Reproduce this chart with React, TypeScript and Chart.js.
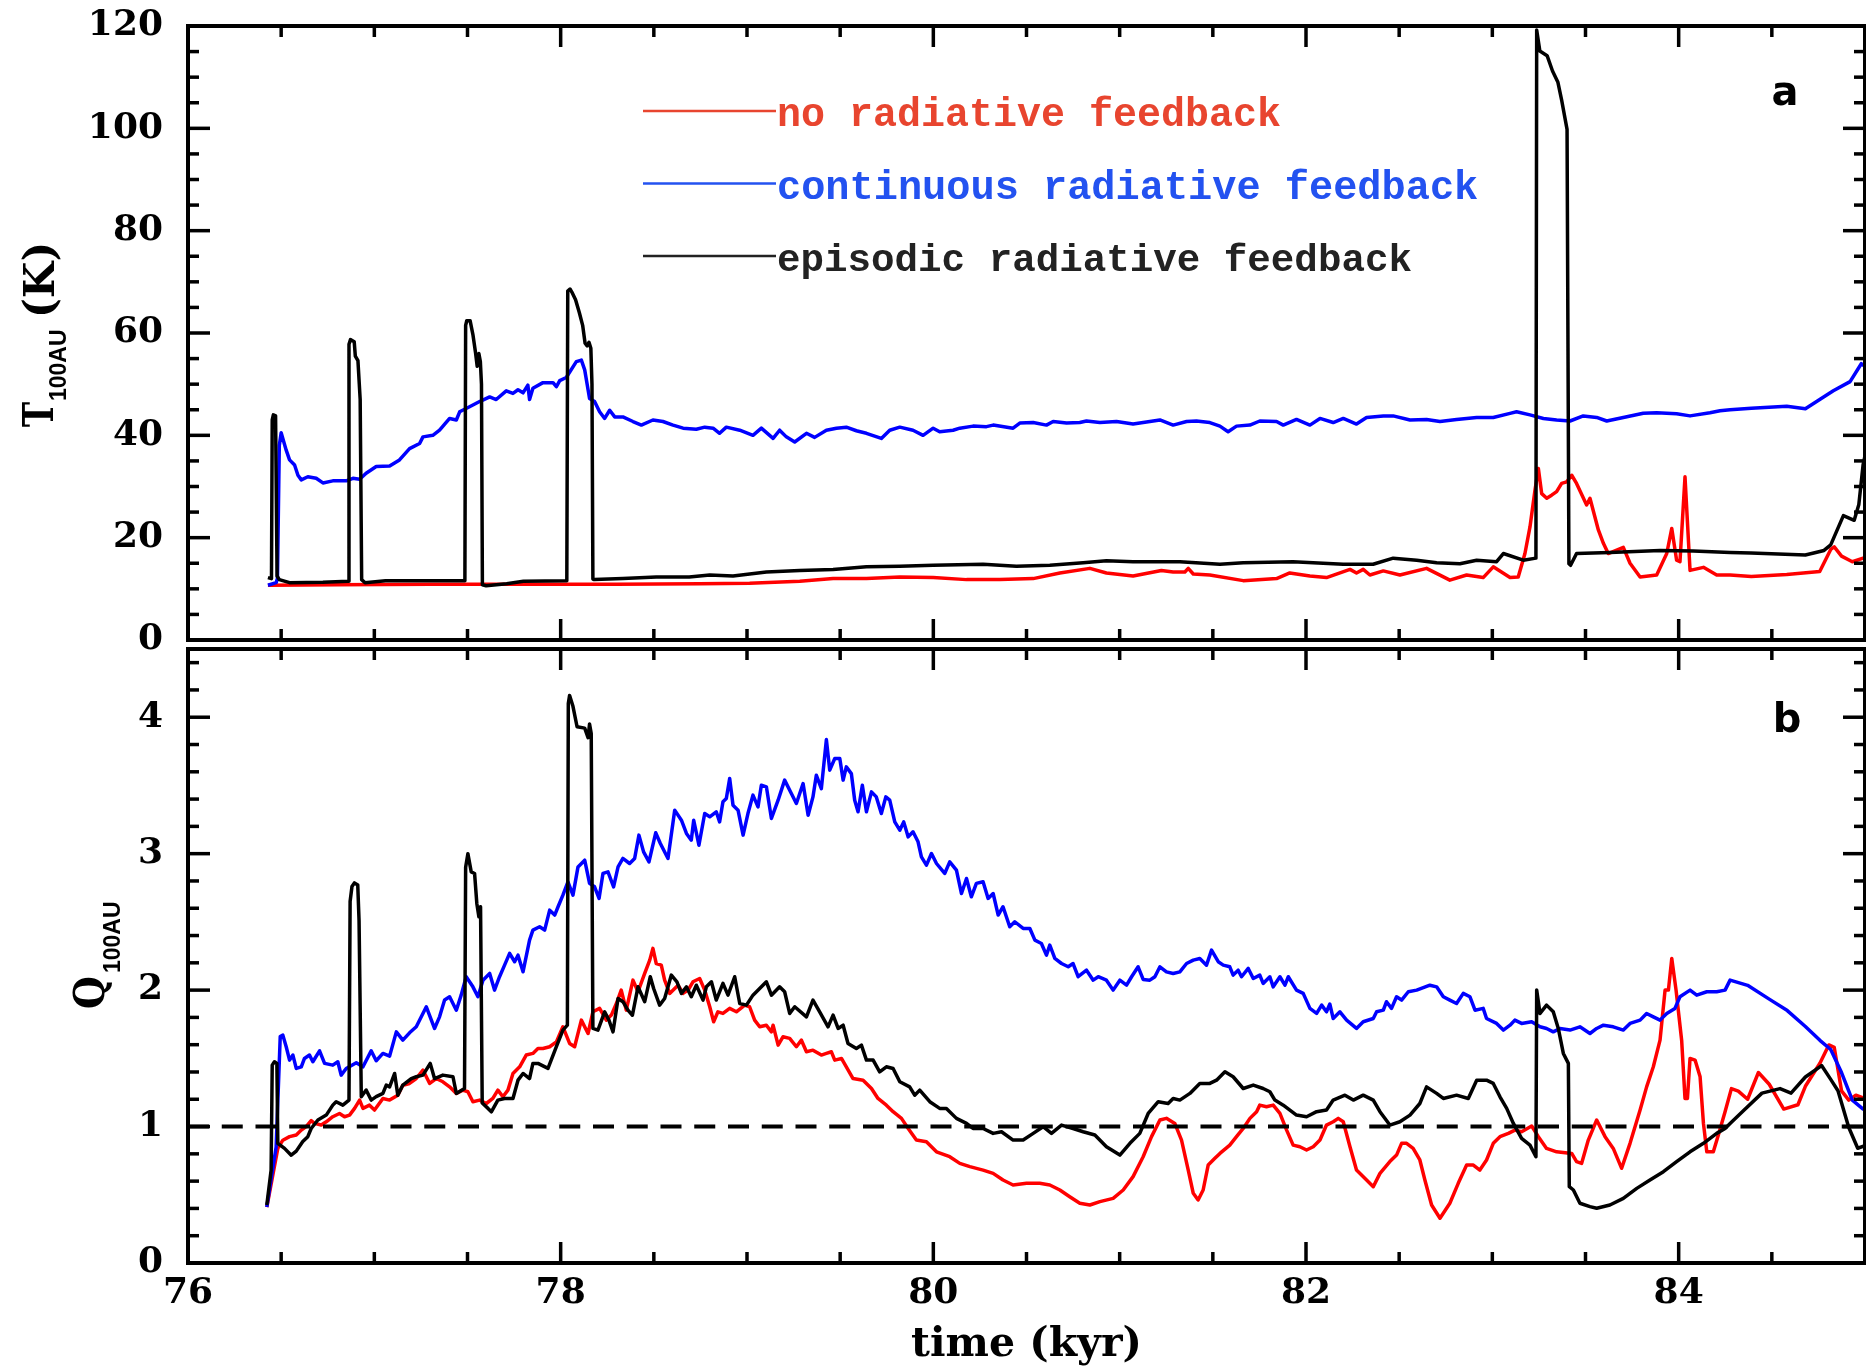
import React, { useEffect, useRef } from "react";
import { Chart, registerables } from "chart.js";
Chart.register(...registerables);

// ---------- axis ranges / ticks ----------
const X_RANGE = [76, 85];
const T_RANGE = [0, 120];
const Q_RANGE = [0, 4.5];

// ---------- legend ----------
const SERIES_LABELS = ["no radiative feedback", "continuous radiative feedback", "episodic radiative feedback"];

// ---------- panel a : T_100AU (K) ----------
const topEpisodic: number[][] = [
  [76.429,12.2],[76.448,12.0],[76.452,43.0],[76.458,44.0],[76.470,43.8],[76.478,12.5],[76.490,11.8],[76.545,11.2],[76.724,11.3],[76.860,11.5],
  [76.864,57.8],[76.872,58.7],[76.892,58.3],[76.898,55.5],[76.912,54.6],[76.924,47.0],[76.932,11.8],[76.950,11.2],[77.060,11.6],[77.250,11.6],[77.486,11.6],
  [77.490,61.5],[77.496,62.4],[77.514,62.4],[77.529,59.7],[77.543,56.2],[77.552,53.5],[77.561,56.0],[77.569,54.4],[77.575,50.0],[77.580,10.8],
  [77.600,10.6],[77.710,11.0],[77.800,11.5],[78.033,11.6],
  [78.038,68.2],[78.050,68.6],[78.060,68.0],[78.080,66.5],[78.100,64.0],[78.118,61.5],[78.131,58.0],[78.142,57.5],[78.152,58.2],[78.162,57.0],[78.168,50.0],[78.173,11.9],
  [78.180,11.8],[78.334,12.0],[78.513,12.3],[78.690,12.3],[78.800,12.7],[78.925,12.5],[79.104,13.3],[79.283,13.6],[79.462,13.8],[79.641,14.3],[79.820,14.4],[79.999,14.6],
  [80.267,14.8],[80.446,14.4],[80.625,14.6],[80.804,15.1],[80.929,15.5],[81.072,15.3],[81.323,15.3],[81.538,14.8],[81.663,15.1],[81.930,15.3],[82.200,14.8],[82.360,14.8],
  [82.468,16.0],[82.594,15.6],[82.701,15.1],[82.826,14.9],[82.916,15.6],[83.023,15.3],[83.059,16.9],[83.166,15.6],[83.234,16.0],
  [83.238,119.2],[83.255,115.1],[83.294,114.2],[83.323,111.2],[83.352,109.0],[83.372,105.5],[83.401,99.8],[83.411,14.9],[83.420,14.6],[83.452,16.9],[83.631,17.1],
  [83.900,17.5],[84.079,17.4],[84.276,17.1],[84.388,17.0],[84.680,16.6],[84.780,17.5],[84.816,18.6],[84.884,24.3],[84.942,23.4],[84.967,26.5],[84.990,34.3],[85.0,36.0]
];
const topContinuous: number[][] = [
  [76.429,10.7],[76.473,11.2],[76.480,12.0],[76.490,38.0],[76.500,40.5],[76.527,37.1],[76.545,35.2],[76.572,34.2],[76.590,32.2],[76.608,31.3],[76.643,31.9],[76.688,31.6],
  [76.724,30.7],[76.777,31.1],[76.849,31.1],[76.885,31.6],[76.921,31.4],[76.956,32.6],[77.010,33.9],[77.082,34.0],[77.135,35.2],[77.189,37.4],[77.243,38.4],[77.261,39.7],
  [77.314,40.0],[77.350,41.0],[77.404,43.3],[77.440,43.0],[77.458,44.6],[77.511,45.6],[77.565,46.6],[77.619,47.5],[77.654,47.0],[77.708,48.7],[77.744,48.2],[77.771,48.9],
  [77.798,48.3],[77.824,49.8],[77.833,47.0],[77.851,49.2],[77.905,50.3],[77.959,50.3],[77.977,49.5],[77.995,50.7],[78.030,51.3],[78.084,54.4],[78.111,54.7],[78.129,52.8],
  [78.155,47.2],[78.182,46.6],[78.209,44.6],[78.236,43.3],[78.263,44.9],[78.290,43.6],[78.334,43.6],[78.388,42.7],[78.433,42.0],[78.495,43.0],[78.549,42.7],[78.603,42.0],
  [78.657,41.4],[78.728,41.2],[78.773,41.6],[78.818,41.4],[78.853,40.4],[78.889,41.6],[78.961,41.0],[79.032,40.0],[79.077,41.4],[79.140,39.4],[79.175,41.0],[79.211,39.7],
  [79.256,38.7],[79.319,40.4],[79.363,39.6],[79.426,41.0],[79.480,41.4],[79.533,41.6],[79.587,40.9],[79.641,40.4],[79.721,39.4],[79.766,41.0],[79.820,41.6],[79.891,41.0],
  [79.945,40.0],[79.999,41.4],[80.034,40.7],[80.106,41.0],[80.142,41.4],[80.213,41.8],[80.285,41.7],[80.321,42.0],[80.428,41.4],[80.464,42.4],[80.536,42.5],[80.607,42.0],
  [80.643,42.7],[80.715,42.4],[80.786,42.5],[80.822,42.8],[80.894,42.5],[80.983,42.7],[81.072,42.2],[81.162,42.7],[81.216,43.0],[81.287,42.0],[81.359,42.7],[81.412,42.8],
  [81.484,42.5],[81.538,41.8],[81.582,40.7],[81.627,41.8],[81.699,42.0],[81.752,42.8],[81.842,42.7],[81.878,42.0],[81.949,43.1],[82.021,42.0],[82.075,43.3],[82.146,42.5],
  [82.200,43.3],[82.271,42.2],[82.325,43.5],[82.415,43.8],[82.468,43.8],[82.558,43.0],[82.647,43.1],[82.719,42.7],[82.808,43.1],[82.916,43.5],[83.005,43.5],[83.095,44.3],
  [83.130,44.6],[83.202,44.0],[83.274,43.3],[83.345,43.0],[83.417,42.8],[83.488,43.8],[83.560,43.5],[83.614,42.8],[83.703,43.5],[83.810,44.3],[83.882,44.4],[83.989,44.2],
  [84.061,43.8],[84.168,44.4],[84.222,44.8],[84.276,45.0],[84.390,45.3],[84.580,45.7],[84.680,45.2],[84.757,47.0],[84.830,48.7],[84.920,50.5],[84.980,54.0],[85.0,53.5]
];
const topNone: number[][] = [
  [76.429,10.7],[76.800,10.8],[77.300,10.9],[77.800,10.9],[78.300,10.9],[78.746,11.0],[79.014,11.1],[79.283,11.5],[79.462,12.0],[79.641,12.0],[79.820,12.3],[79.999,12.2],
  [80.178,11.8],[80.357,11.8],[80.536,12.0],[80.679,13.1],[80.840,14.0],[80.929,13.1],[81.072,12.5],[81.224,13.6],[81.287,13.3],[81.350,13.3],[81.368,14.0],[81.395,12.9],
  [81.484,12.7],[81.663,11.6],[81.842,12.0],[81.913,13.1],[82.021,12.5],[82.110,12.2],[82.236,13.8],[82.271,13.1],[82.307,13.8],[82.343,12.7],[82.415,13.5],[82.504,12.7],
  [82.647,14.0],[82.772,11.7],[82.862,12.7],[82.951,12.2],[83.005,14.3],[83.095,12.2],[83.139,12.3],[83.175,16.9],[83.202,22.1],[83.229,29.3],[83.247,33.5],[83.265,28.6],
  [83.292,27.7],[83.318,28.3],[83.345,29.0],[83.372,30.6],[83.399,30.9],[83.426,32.2],[83.452,30.6],[83.506,26.4],[83.524,27.7],[83.569,21.5],[83.596,18.9],[83.622,16.9],
  [83.703,18.1],[83.739,15.0],[83.793,12.3],[83.882,12.7],[83.936,16.9],[83.963,21.8],[83.989,15.6],[84.007,15.3],[84.034,31.9],[84.061,13.6],[84.133,14.2],[84.204,12.7],
  [84.276,12.7],[84.390,12.4],[84.580,12.8],[84.757,13.4],[84.816,17.7],[84.835,18.2],[84.874,16.4],[84.932,15.3],[84.990,16.0],[85.0,15.9]
];

// ---------- panel b : Q_100AU ----------
const botEpisodic: number[][] = [
  [76.423,0.425],[76.446,0.68],[76.452,1.45],[76.464,1.475],[76.477,1.463],[76.482,0.876],[76.495,0.864],[76.518,0.84],[76.554,0.79],[76.581,0.82],[76.616,0.89],[76.643,0.926],
  [76.661,0.986],[76.697,1.048],[76.742,1.084],[76.777,1.157],[76.795,1.182],[76.831,1.157],[76.864,1.194],[76.870,2.65],[76.880,2.76],[76.893,2.786],[76.911,2.77],[76.918,2.51],
  [76.930,1.219],[76.956,1.268],[76.983,1.194],[77.010,1.219],[77.046,1.243],[77.064,1.304],[77.082,1.291],[77.109,1.389],[77.126,1.230],[77.153,1.304],[77.198,1.352],[77.225,1.365],
  [77.261,1.377],[77.300,1.463],[77.323,1.352],[77.368,1.377],[77.422,1.365],[77.440,1.243],[77.484,1.279],[77.490,2.90],[77.502,3.00],[77.520,2.867],[77.538,2.855],[77.550,2.635],
  [77.561,2.537],[77.570,2.611],[77.579,1.172],[77.610,1.133],[77.628,1.108],[77.663,1.194],[77.699,1.206],[77.744,1.206],[77.771,1.340],[77.798,1.389],[77.833,1.352],[77.851,1.463],
  [77.878,1.463],[77.932,1.426],[77.977,1.585],[78.012,1.707],[78.036,1.743],[78.041,4.10],[78.048,4.16],[78.066,4.08],[78.088,3.93],[78.129,3.92],[78.147,3.85],[78.155,3.95],
  [78.164,3.88],[78.173,1.719],[78.200,1.707],[78.236,1.841],[78.259,1.780],[78.281,1.694],[78.308,1.939],[78.334,1.915],[78.361,1.853],[78.385,1.816],[78.415,2.024],[78.451,1.915],
  [78.481,2.098],[78.499,2.012],[78.531,1.890],[78.558,1.939],[78.594,2.110],[78.624,2.061],[78.648,1.976],[78.675,2.024],[78.701,1.951],[78.728,2.036],[78.764,1.927],[78.782,2.024],
  [78.809,2.061],[78.835,1.927],[78.871,2.049],[78.898,1.963],[78.934,2.098],[78.961,1.902],[78.997,1.890],[79.032,1.963],[79.068,2.012],[79.104,2.061],[79.131,1.963],[79.175,2.024],
  [79.202,1.988],[79.229,1.829],[79.256,1.878],[79.319,1.804],[79.354,1.927],[79.390,1.841],[79.435,1.731],[79.462,1.817],[79.489,1.719],[79.516,1.743],[79.542,1.609],[79.587,1.572],
  [79.614,1.597],[79.641,1.487],[79.677,1.487],[79.712,1.401],[79.748,1.438],[79.784,1.426],[79.820,1.328],[79.873,1.291],[79.900,1.230],[79.927,1.267],[79.981,1.182],[80.034,1.133],
  [80.070,1.133],[80.124,1.060],[80.178,1.023],[80.213,0.986],[80.267,0.986],[80.321,0.950],[80.366,0.962],[80.428,0.901],[80.482,0.901],[80.536,0.950],[80.589,0.999],[80.634,0.950],
  [80.688,1.011],[80.750,0.986],[80.804,0.962],[80.867,0.938],[80.929,0.852],[81.001,0.791],[81.055,0.877],[81.108,0.950],[81.153,1.096],[81.207,1.182],[81.260,1.169],[81.287,1.206],
  [81.323,1.194],[81.377,1.243],[81.430,1.316],[81.484,1.316],[81.520,1.340],[81.565,1.401],[81.609,1.365],[81.663,1.279],[81.717,1.304],[81.770,1.279],[81.806,1.255],[81.833,1.194],
  [81.878,1.157],[81.949,1.084],[82.003,1.072],[82.057,1.109],[82.110,1.121],[82.146,1.194],[82.209,1.230],[82.254,1.194],[82.307,1.230],[82.361,1.194],[82.397,1.109],[82.450,1.011],
  [82.504,1.035],[82.558,1.084],[82.611,1.169],[82.647,1.291],[82.701,1.243],[82.737,1.206],[82.808,1.230],[82.871,1.206],[82.916,1.340],[82.969,1.340],[83.005,1.316],[83.041,1.218],
  [83.077,1.133],[83.113,1.023],[83.157,0.913],[83.202,0.864],[83.234,0.779],[83.238,2.000],[83.256,1.829],[83.291,1.890],[83.327,1.841],[83.354,1.719],[83.381,1.536],[83.408,1.463],
  [83.413,0.559],[83.435,0.535],[83.470,0.438],[83.524,0.413],[83.560,0.401],[83.631,0.425],[83.703,0.474],[83.775,0.547],[83.846,0.608],[83.918,0.669],[83.989,0.743],[84.061,0.815],
  [84.133,0.877],[84.204,0.950],[84.249,0.986],[84.276,1.023],[84.350,1.120],[84.447,1.245],[84.544,1.278],[84.603,1.245],[84.680,1.363],[84.767,1.447],[84.816,1.346],[84.855,1.262],
  [84.913,0.993],[84.961,0.841],[85.0,0.86]
];
const botContinuous: number[][] = [
  [76.423,0.41],[76.473,0.85],[76.495,1.66],[76.509,1.67],[76.527,1.585],[76.545,1.487],[76.563,1.524],[76.581,1.426],[76.608,1.438],[76.625,1.499],[76.652,1.524],[76.670,1.475],
  [76.706,1.555],[76.733,1.463],[76.777,1.450],[76.804,1.475],[76.822,1.377],[76.849,1.426],[76.903,1.468],[76.939,1.438],[76.983,1.555],[77.010,1.482],[77.046,1.536],[77.082,1.516],
  [77.118,1.694],[77.153,1.633],[77.189,1.687],[77.225,1.731],[77.279,1.878],[77.323,1.719],[77.350,1.804],[77.377,1.927],[77.404,1.951],[77.440,1.853],[77.466,1.963],[77.493,2.098],
  [77.529,2.024],[77.556,1.951],[77.583,2.073],[77.619,2.122],[77.645,2.000],[77.672,2.098],[77.699,2.183],[77.726,2.269],[77.753,2.208],[77.771,2.256],[77.798,2.134],[77.833,2.366],
  [77.851,2.440],[77.887,2.464],[77.914,2.440],[77.941,2.586],[77.968,2.550],[77.986,2.611],[78.012,2.696],[78.039,2.794],[78.066,2.696],[78.093,2.903],[78.129,2.952],[78.155,2.782],
  [78.182,2.757],[78.206,2.672],[78.227,2.855],[78.254,2.867],[78.284,2.757],[78.308,2.903],[78.334,2.965],[78.370,2.928],[78.397,2.965],[78.420,3.136],[78.445,3.013],[78.474,2.940],
  [78.510,3.153],[78.535,3.075],[78.576,2.965],[78.612,3.319],[78.648,3.245],[78.675,3.148],[78.701,3.099],[78.714,3.245],[78.742,3.062],[78.773,3.294],[78.800,3.270],[78.835,3.307],
  [78.853,3.233],[78.871,3.380],[78.889,3.404],[78.907,3.551],[78.925,3.355],[78.952,3.319],[78.979,3.136],[79.005,3.294],[79.032,3.429],[79.059,3.343],[79.077,3.502],[79.104,3.490],
  [79.131,3.258],[79.167,3.392],[79.202,3.539],[79.238,3.441],[79.265,3.368],[79.301,3.514],[79.328,3.282],[79.354,3.416],[79.372,3.575],[79.399,3.477],[79.426,3.836],[79.444,3.612],
  [79.471,3.697],[79.498,3.697],[79.516,3.539],[79.533,3.636],[79.560,3.587],[79.578,3.392],[79.596,3.307],[79.619,3.502],[79.641,3.307],[79.668,3.453],[79.694,3.416],[79.721,3.294],
  [79.745,3.416],[79.766,3.392],[79.793,3.233],[79.820,3.172],[79.841,3.233],[79.865,3.123],[79.891,3.160],[79.918,3.087],[79.936,2.977],[79.963,2.916],[79.990,3.001],[80.017,2.928],
  [80.061,2.855],[80.088,2.940],[80.124,2.879],[80.151,2.708],[80.178,2.818],[80.204,2.684],[80.231,2.782],[80.267,2.794],[80.294,2.672],[80.321,2.708],[80.348,2.550],[80.374,2.611],
  [80.410,2.464],[80.437,2.501],[80.482,2.452],[80.518,2.452],[80.545,2.366],[80.580,2.342],[80.607,2.256],[80.625,2.330],[80.652,2.232],[80.688,2.195],[80.724,2.171],[80.750,2.195],
  [80.777,2.098],[80.822,2.146],[80.858,2.073],[80.885,2.098],[80.929,2.073],[80.965,2.000],[81.001,2.073],[81.037,2.036],[81.064,2.098],[81.099,2.171],[81.126,2.078],[81.162,2.073],
  [81.189,2.098],[81.216,2.171],[81.251,2.134],[81.287,2.122],[81.323,2.134],[81.359,2.195],[81.395,2.220],[81.430,2.232],[81.466,2.183],[81.493,2.293],[81.529,2.208],[81.556,2.183],
  [81.591,2.171],[81.609,2.110],[81.636,2.146],[81.654,2.098],[81.690,2.159],[81.717,2.085],[81.752,2.110],[81.770,2.049],[81.806,2.098],[81.824,2.024],[81.860,2.098],[81.887,2.036],
  [81.905,2.098],[81.949,2.000],[81.985,1.976],[82.021,1.866],[82.057,1.829],[82.084,1.890],[82.110,1.841],[82.128,1.898],[82.146,1.792],[82.182,1.841],[82.218,1.780],[82.271,1.719],
  [82.307,1.768],[82.361,1.792],[82.379,1.841],[82.415,1.853],[82.432,1.915],[82.459,1.866],[82.486,1.951],[82.513,1.927],[82.549,1.988],[82.594,2.000],[82.665,2.036],[82.701,2.024],
  [82.737,1.951],[82.772,1.927],[82.808,1.902],[82.844,1.976],[82.880,1.951],[82.907,1.853],[82.951,1.866],[82.969,1.792],[83.023,1.756],[83.059,1.707],[83.095,1.743],[83.121,1.780],
  [83.157,1.756],[83.211,1.768],[83.256,1.731],[83.291,1.719],[83.327,1.694],[83.363,1.719],[83.417,1.707],[83.470,1.731],[83.524,1.682],[83.560,1.719],[83.596,1.743],[83.649,1.731],
  [83.703,1.707],[83.739,1.756],[83.793,1.780],[83.828,1.829],[83.864,1.804],[83.900,1.780],[83.936,1.829],[83.980,1.866],[84.007,1.951],[84.061,2.000],[84.097,1.963],[84.151,1.988],
  [84.204,1.988],[84.249,2.000],[84.276,2.073],[84.370,2.035],[84.486,1.934],[84.583,1.850],[84.680,1.733],[84.758,1.632],[84.816,1.565],[84.874,1.396],[84.932,1.194],[84.990,1.128],
  [85.0,1.12]
];
const botNone: number[][] = [
  [76.423,0.41],[76.482,0.84],[76.509,0.90],[76.545,0.926],[76.581,0.938],[76.608,0.974],[76.634,0.999],[76.661,1.043],[76.679,1.023],[76.715,1.011],[76.742,1.035],[76.777,1.072],
  [76.813,1.096],[76.840,1.072],[76.867,1.084],[76.894,1.133],[76.921,1.194],[76.939,1.133],[76.974,1.157],[77.001,1.121],[77.046,1.206],[77.082,1.194],[77.126,1.230],[77.153,1.303],
  [77.189,1.316],[77.225,1.352],[77.261,1.414],[77.297,1.316],[77.332,1.352],[77.368,1.328],[77.404,1.291],[77.440,1.243],[77.475,1.267],[77.502,1.255],[77.529,1.182],[77.565,1.194],
  [77.601,1.169],[77.636,1.206],[77.663,1.267],[77.690,1.218],[77.717,1.267],[77.744,1.389],[77.780,1.438],[77.815,1.524],[77.851,1.536],[77.878,1.572],[77.905,1.572],[77.941,1.585],
  [77.977,1.621],[78.012,1.731],[78.048,1.609],[78.075,1.585],[78.111,1.780],[78.147,1.682],[78.173,1.841],[78.209,1.866],[78.245,1.780],[78.272,1.817],[78.299,1.902],[78.325,2.000],
  [78.352,1.853],[78.388,2.073],[78.415,1.988],[78.451,2.122],[78.478,2.220],[78.495,2.306],[78.513,2.195],[78.540,2.183],[78.558,2.073],[78.585,1.976],[78.630,2.036],[78.657,1.976],
  [78.684,2.000],[78.710,2.061],[78.746,2.085],[78.773,2.000],[78.800,1.878],[78.821,1.768],[78.844,1.841],[78.871,1.829],[78.907,1.866],[78.943,1.841],[78.988,1.890],[79.014,1.878],
  [79.041,1.780],[79.068,1.731],[79.104,1.743],[79.131,1.694],[79.140,1.743],[79.167,1.597],[79.193,1.658],[79.229,1.646],[79.265,1.585],[79.292,1.633],[79.319,1.548],[79.354,1.560],
  [79.399,1.524],[79.426,1.536],[79.453,1.548],[79.471,1.487],[79.507,1.499],[79.533,1.438],[79.569,1.352],[79.623,1.340],[79.668,1.279],[79.703,1.206],[79.748,1.157],[79.784,1.109],
  [79.829,1.060],[79.865,0.986],[79.909,0.901],[79.963,0.889],[80.017,0.815],[80.088,0.779],[80.142,0.730],[80.196,0.706],[80.267,0.681],[80.321,0.657],[80.374,0.608],[80.428,0.572],
  [80.500,0.584],[80.571,0.584],[80.625,0.572],[80.679,0.535],[80.732,0.486],[80.786,0.438],[80.840,0.425],[80.894,0.450],[80.965,0.474],[81.019,0.535],[81.072,0.633],[81.126,0.779],
  [81.171,0.926],[81.216,1.048],[81.251,1.060],[81.296,1.023],[81.332,0.901],[81.368,0.681],[81.395,0.511],[81.421,0.462],[81.448,0.535],[81.475,0.718],[81.511,0.767],[81.538,0.803],
  [81.591,0.864],[81.627,0.926],[81.663,0.986],[81.699,1.060],[81.735,1.109],[81.752,1.157],[81.788,1.145],[81.824,1.157],[81.860,1.096],[81.896,0.974],[81.931,0.864],[81.967,0.852],
  [82.003,0.828],[82.039,0.852],[82.075,0.901],[82.110,1.011],[82.146,1.035],[82.173,1.060],[82.200,1.035],[82.236,0.852],[82.271,0.681],[82.325,0.608],[82.361,0.559],[82.397,0.657],
  [82.450,0.743],[82.486,0.791],[82.513,0.877],[82.540,0.877],[82.575,0.840],[82.611,0.755],[82.638,0.608],[82.674,0.425],[82.719,0.328],[82.772,0.438],[82.817,0.584],[82.862,0.718],
  [82.898,0.718],[82.933,0.681],[82.969,0.755],[83.005,0.877],[83.041,0.926],[83.086,0.950],[83.121,0.974],[83.157,0.962],[83.211,1.004],[83.247,0.926],[83.291,0.840],[83.345,0.815],
  [83.426,0.803],[83.452,0.743],[83.479,0.730],[83.515,0.901],[83.560,1.048],[83.605,0.926],[83.649,0.840],[83.694,0.694],[83.739,0.877],[83.793,1.121],[83.828,1.291],[83.864,1.438],
  [83.900,1.633],[83.927,2.000],[83.945,2.000],[83.963,2.232],[83.986,2.000],[84.016,1.633],[84.034,1.206],[84.047,1.206],[84.061,1.499],[84.088,1.487],[84.115,1.365],[84.133,1.023],
  [84.151,0.815],[84.186,0.815],[84.213,0.938],[84.249,1.109],[84.283,1.278],[84.320,1.260],[84.370,1.200],[84.428,1.396],[84.486,1.310],[84.564,1.128],[84.640,1.160],[84.680,1.295],
  [84.758,1.464],[84.806,1.598],[84.835,1.580],[84.874,1.262],[84.913,1.194],[84.951,1.230],[84.990,1.210],[85.0,1.20]
];
const Q_THRESHOLD = 1;

// ---------- styling ----------
const RED = "#ff0000";
const BLUE = "#0000ff";
const BLACK = "#000000";
const LEGEND_COLORS = ["#e8452f", "#2352f0", "#222222"];
const LEGEND_SIZES = [40, 40.3, 39.2];
const TICK_FONT = { family: "'DejaVu Serif'", size: 36, weight: "bold" as const };

const xy = (arr: number[][]) => arr.map(([x, y]) => ({ x, y }));

const framePlugin = {
  id: "frame",
  afterDatasetsDraw(chart: any, _a: any, o: any) {
    const { ctx, chartArea: a, scales } = chart;
    const xs = scales.x, ys = scales.y;
    ctx.save();
    ctx.strokeStyle = "#000";
    ctx.lineCap = "butt";
    const seg = (x1: number, y1: number, x2: number, y2: number) => {
      ctx.beginPath(); ctx.moveTo(x1, y1); ctx.lineTo(x2, y2); ctx.stroke();
    };
    ctx.lineWidth = 3.5;
    const nx = Math.round((X_RANGE[1] - X_RANGE[0]) / o.xMinor);
    for (let i = 1; i < nx; i++) {
      const v = X_RANGE[0] + i * o.xMinor;
      const major = Math.abs(v / o.xMajor - Math.round(v / o.xMajor)) < 1e-6;
      const len = major ? 21 : 11;
      const px = xs.getPixelForValue(v);
      seg(px, a.bottom, px, a.bottom - len);
      seg(px, a.top, px, a.top + len);
    }
    const [y0, y1] = o.yRange;
    const ny = Math.round((y1 - y0) / o.yMinor);
    for (let i = 1; i < ny; i++) {
      const v = y0 + i * o.yMinor;
      const major = Math.abs(v / o.yMajor - Math.round(v / o.yMajor)) < 1e-6;
      const len = major ? 22 : 11;
      const py = ys.getPixelForValue(v);
      seg(a.left, py, a.left + len, py);
      seg(a.right, py, a.right - len, py);
    }
    ctx.lineWidth = 4;
    ctx.strokeRect(a.left, a.top, a.right - a.left, a.bottom - a.top);
    ctx.restore();
  },
};

const annotPlugin = {
  id: "annot",
  afterDraw(chart: any, _a: any, o: any) {
    const ctx = chart.ctx;
    ctx.save();
    ctx.textAlign = "left";
    ctx.textBaseline = "alphabetic";
    ctx.fillStyle = "#000";
    for (const p of o.title || []) {
      ctx.save();
      ctx.translate(p.x, p.y);
      ctx.rotate(-Math.PI / 2);
      ctx.scale(p.sx || 1, 1);
      ctx.font = p.font;
      ctx.fillText(p.text, 0, 0);
      ctx.restore();
    }
    if (o.letter) {
      ctx.font = "bold 40px 'DejaVu Sans'";
      ctx.textAlign = "center";
      ctx.fillText(o.letter.text, o.letter.x, o.letter.y);
      ctx.textAlign = "left";
    }
    if (o.legend) {
      const L = o.legend;
      SERIES_LABELS.forEach((lab, i) => {
        const y = L.y0 + i * L.dy;
        ctx.strokeStyle = LEGEND_COLORS[i];
        ctx.lineWidth = 2.5;
        ctx.beginPath(); ctx.moveTo(L.x0, y); ctx.lineTo(L.x1, y); ctx.stroke();
        ctx.fillStyle = LEGEND_COLORS[i];
        ctx.font = `bold ${LEGEND_SIZES[i]}px 'Liberation Mono'`;
        ctx.fillText(lab, L.x1 + 1, y + 15);
      });
    }
    ctx.restore();
  },
};

const lineDs = (data: number[][], color: string) => ({
  data: xy(data),
  borderColor: color,
  backgroundColor: color,
  borderWidth: 3.5,
  pointRadius: 0,
  tension: 0,
  fill: false,
  borderJoinStyle: "round" as const,
});

const yAxis = (range: number[], step: number) => ({
  type: "linear", min: range[0], max: range[1],
  grid: { display: false, drawTicks: true, tickLength: 25 },
  border: { display: false },
  ticks: { stepSize: step, includeBounds: false, color: "#000", font: TICK_FONT, padding: 0 },
  afterFit: (s: any) => { s.width = 188; },
});

export default function App() {
  const topRef = useRef<HTMLCanvasElement>(null);
  const botRef = useRef<HTMLCanvasElement>(null);

  useEffect(() => {
    const top = new Chart(topRef.current as HTMLCanvasElement, {
      type: "line",
      data: {
        datasets: [lineDs(topEpisodic, BLACK), lineDs(topContinuous, BLUE), lineDs(topNone, RED)],
      },
      plugins: [framePlugin, annotPlugin],
      options: {
        animation: false,
        responsive: false,
        devicePixelRatio: 1,
        layout: { padding: { top: 26, right: 1, bottom: 22, left: 0 } },
        plugins: {
          legend: { display: false },
          tooltip: { enabled: false },
          frame: { xMinor: 0.5, xMajor: 2, yMinor: 5, yMajor: 20, yRange: T_RANGE },
          annot: {
            title: [
              { text: "T", font: "bold 42px 'DejaVu Serif'", x: 53, y: 427, sx: 0.8 },
              { text: "100AU", font: "bold 23px 'Liberation Sans'", x: 66, y: 401 },
              { text: "(K)", font: "bold 42px 'DejaVu Serif'", x: 54, y: 318 },
            ],
            letter: { text: "a", x: 1785, y: 105 },
            legend: { x0: 643, x1: 776, y0: 111, dy: 72.5 },
          },
        } as any,
        scales: {
          x: { type: "linear", min: X_RANGE[0], max: X_RANGE[1], display: false },
          y: yAxis(T_RANGE, 20),
        },
      } as any,
    });

    const bot = new Chart(botRef.current as HTMLCanvasElement, {
      type: "line",
      data: {
        datasets: [
          {
            data: [{ x: X_RANGE[0], y: Q_THRESHOLD }, { x: X_RANGE[1], y: Q_THRESHOLD }],
            borderColor: BLACK, borderWidth: 4, borderDash: [21, 12.75], pointRadius: 0, fill: false,
          },
          lineDs(botEpisodic, BLACK), lineDs(botContinuous, BLUE), lineDs(botNone, RED),
        ],
      },
      plugins: [framePlugin, annotPlugin],
      options: {
        animation: false,
        responsive: false,
        devicePixelRatio: 1,
        layout: { padding: { top: 29, right: 1, bottom: 0, left: 0 } },
        plugins: {
          legend: { display: false },
          tooltip: { enabled: false },
          frame: { xMinor: 0.5, xMajor: 2, yMinor: 0.2, yMajor: 1, yRange: Q_RANGE },
          annot: {
            title: [
              { text: "Q", font: "bold 42px 'DejaVu Serif'", x: 104, y: 389, sx: 0.9 },
              { text: "100AU", font: "bold 23px 'Liberation Sans'", x: 120, y: 353 },
            ],
            letter: { text: "b", x: 1787, y: 112 },
          },
        } as any,
        scales: {
          x: {
            type: "linear", min: X_RANGE[0], max: X_RANGE[1],
            grid: { display: false, drawTicks: false },
            border: { display: false },
            ticks: { stepSize: 2, includeBounds: false, color: "#000", font: { ...TICK_FONT, size: 36 }, padding: 9, maxRotation: 0 },
            title: { display: true, text: "time (kyr)", color: "#000", font: { family: "'DejaVu Serif'", size: 41, weight: "bold" }, padding: { top: 0, bottom: 0 } },
            afterFit: (s: any) => { s.height = 107; },
          },
          y: yAxis(Q_RANGE, 1),
        },
      } as any,
    });

    return () => { top.destroy(); bot.destroy(); };
  }, []);

  return (
    <div style={{ position: "fixed", left: 0, top: 0, width: 1866, height: 1370, background: "#fff", overflow: "hidden" }}>
      <canvas ref={topRef} width={1866} height={662} style={{ position: "absolute", left: 0, top: 0 }} />
      <canvas ref={botRef} width={1866} height={750} style={{ position: "absolute", left: 0, top: 620 }} />
    </div>
  );
}
